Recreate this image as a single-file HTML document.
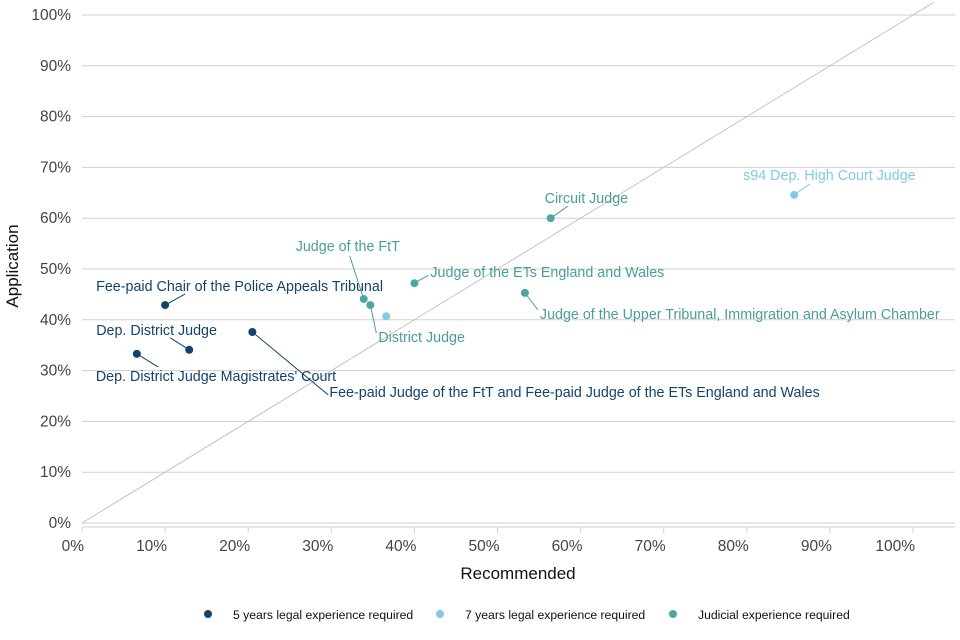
<!DOCTYPE html>
<html><head><meta charset="utf-8"><style>
body{margin:0;background:#fff}
svg{display:block;font-family:"Liberation Sans",sans-serif}
</style></head><body>
<svg id="c" width="960" height="640"></svg>
<script>
const names=["Fee-paid Chair of the Police Appeals Tribunal","Dep. District Judge Magistrates' Court","Dep. District Judge","Fee-paid Judge of the FtT and Fee-paid Judge of the ETs England and Wales","","s94 Dep. High Court Judge","Circuit Judge","Judge of the ETs England and Wales","Judge of the Upper Tribunal, Immigration and Asylum Chamber","Judge of the FtT","District Judge"];
const recommended=[10.0,6.6,12.9,20.5,36.6,85.7,56.4,40.0,53.3,33.9,34.7];
const application=[42.9,33.3,34.1,37.6,40.7,64.6,60.0,47.2,45.3,44.1,42.9];
const groups=[0,0,0,0,1,1,2,2,2,2,2];
const groupNames=["5 years legal experience required","7 years legal experience required","Judicial experience required"];
const xTicks=[0,10,20,30,40,50,60,70,80,90,100];
const yTicks=[0,10,20,30,40,50,60,70,80,90,100];
const colors=["#12436D","#80CBE3","#4DA6A0"];
const labColors=["#12436D","#80CBE3","#4A9E98"];
const lab=[[-69,-14,20,-11],[-41,27,21,13],[-93,-15,-19,-12],[77,65,76,63],[0,0,0,0],[-51,-15,16,-11],[-6,-15,17,-12],[16,-6,14,-8],[15,26,13,17],[-68,-48,-14,-43],[8,37,6,28]];
const X=v=>82+v*8.31, Y=v=>523-v*5.08;
const s=document.getElementById('c'),NS="http://www.w3.org/2000/svg";
function el(t,a,p){const e=document.createElementNS(NS,t);for(const k in a)e.setAttribute(k,a[k]);(p||s).appendChild(e);return e;}
yTicks.forEach(v=>{
 const g=el('line',{x1:82,x2:955,y1:Y(v),y2:Y(v),stroke:'#d0d0d0'});
 
 
 const t=el('text',{x:71,y:Y(v)+5,'text-anchor':'end','font-size':15.5,fill:'#444'});t.textContent=v+'%';
 
 
});
xTicks.forEach(v=>{
 const k=el('line',{x1:X(v),x2:X(v),y1:527,y2:533,stroke:'#d0d0d0'});
 
 
 const t=el('text',{x:X(v)+2,y:551,'text-anchor':'end','font-size':15.5,fill:'#444'});t.textContent=v+'%';
 
 
});
const ax=el('line',{x1:82,x2:955,y1:527,y2:527,stroke:'#d0d0d0'});


const d=el('line',{x1:X(0),y1:Y(0),x2:X(102.5),y2:Y(102.5),stroke:'#c4c4c4'});


recommended.forEach((r,i)=>{
 const px=X(r),py=Y(application[i]),o=lab[i],c=labColors[groups[i]];
 if(names[i]){
  const l=el('line',{x1:px,y1:py,x2:px+o[2],y2:py+o[3],stroke:c});
  
  
 }
 const p=el('circle',{cx:px,cy:py,r:4,fill:colors[groups[i]]});
 
 
 if(names[i]){
  const t=el('text',{x:px+o[0],y:py+o[1],'font-size':14.3,fill:c});t.textContent=names[i];
  
  
 }
});
const xt=el('text',{x:518,y:579,'text-anchor':'middle','font-size':17,fill:'#111'});xt.textContent='Recommended';


const yt=el('text',{x:0,y:0,'text-anchor':'middle','font-size':17,fill:'#111',transform:'translate(18,266) rotate(-90)'});yt.textContent='Application';


const lx=[208,440,673];
groupNames.forEach((n,i)=>{
 const c=el('circle',{cx:lx[i],cy:614,r:4,fill:colors[i]});
 
 
 const t=el('text',{x:lx[i]+25,y:619,'font-size':12.2,fill:'#111'});t.textContent=n;
 
 
});
</script>
</body></html>
